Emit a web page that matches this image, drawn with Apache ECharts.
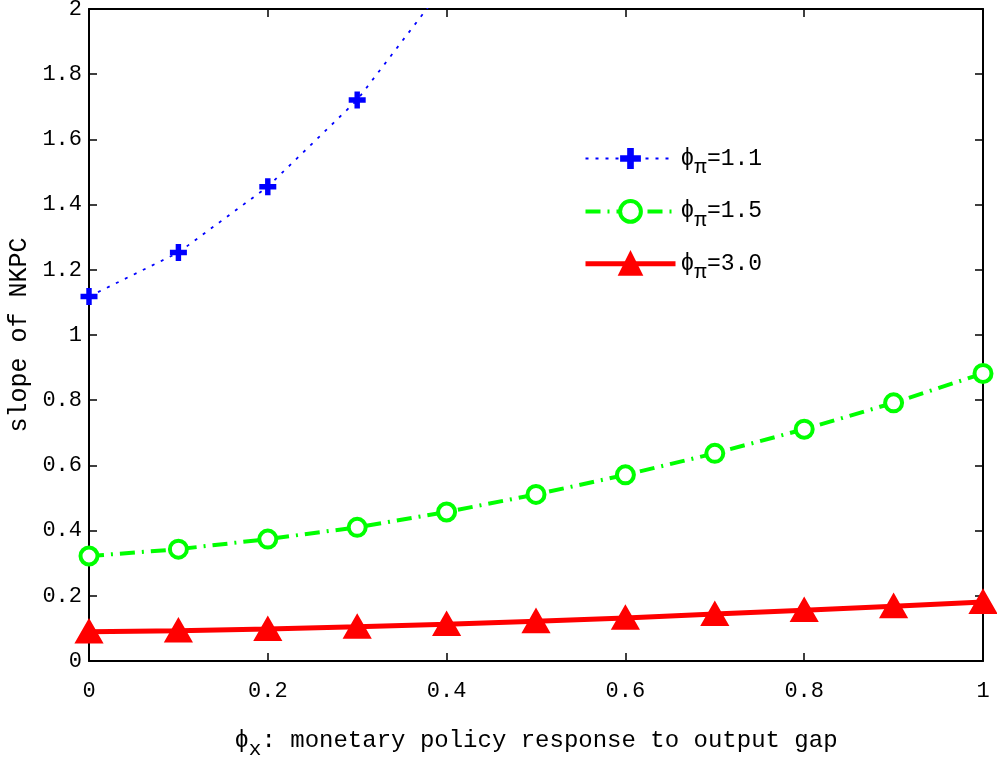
<!DOCTYPE html>
<html><head><meta charset="utf-8">
<script src="https://cdn.jsdelivr.net/npm/echarts@6/dist/echarts.min.js"></script>
<style>html,body{margin:0;padding:0;background:#fff}#c{width:997px;height:761px}</style>
</head><body><div id="c"></div>
<script>
const xValues = [0, 0.1, 0.2, 0.3, 0.4, 0.5, 0.6, 0.7, 0.8, 0.9, 1.0];
const phi11 = [1.118, 1.253, 1.455, 1.721, 2.08];
const phi15 = [0.322, 0.343, 0.374, 0.410, 0.457, 0.511, 0.571, 0.637, 0.711, 0.792, 0.882];
const phi30 = [0.090, 0.093, 0.098, 0.105, 0.113, 0.122, 0.132, 0.144, 0.156, 0.168, 0.181];
const seriesNames = ['ϕπ=1.1', 'ϕπ=1.5', 'ϕπ=3.0'];
const xTicks = {min: 0, max: 1, interval: 0.2};
const yTicks = {min: 0, max: 2, interval: 0.2};

const FONT = '"Liberation Mono", "Courier New", monospace';
const pair = (ys) => ys.map((y, i) => [xValues[i], y]);
const plusPath = 'path://M0.34,0H0.66V0.34H1V0.66H0.66V1H0.34V0.66H0V0.34H0.34Z';

const chart = echarts.init(document.getElementById('c'), null, {renderer: 'canvas'});
const axisLine = {show: true, onZero: false, lineStyle: {color: '#000', width: 2}};
const tick = {show: true, inside: true, length: 8, lineStyle: {color: '#000', width: 1.5}};
const styles = [
  {symbol: plusPath, symbolSize: 17, line: {color: '#0000ff', width: 1.8, type: [3, 7]},
   item: {color: '#0000ff', borderWidth: 0}},
  {symbol: 'circle', symbolSize: 17, line: {color: '#00ff00', width: 4, type: [15, 7, 2, 7]},
   item: {color: '#fff', borderColor: '#00ff00', borderWidth: 4}},
  {symbol: 'triangle', symbolSize: [24, 21], line: {color: '#ff0000', width: 5, type: 'solid'},
   item: {color: '#ff0000', borderColor: '#ff0000', borderWidth: 3}}
];
const datasets = [phi11, phi15, phi30];
chart.setOption({
  animation: false,
  backgroundColor: '#fff',
  grid: {left: 89, right: 14, top: 9, bottom: 100, containLabel: false, outerBoundsMode: 'none'},
  xAxis: [{
    type: 'value', min: xTicks.min, max: xTicks.max, interval: xTicks.interval,
    axisLine, axisTick: tick, splitLine: {show: false},
    axisLabel: {color: '#000', fontFamily: FONT, fontSize: 22, margin: 19},
    name: '{a|ϕ}{b|x}{a|: monetary policy response to output gap}',
    nameLocation: 'middle', nameGap: 60,
    nameTextStyle: {rich: {
      a: {fontFamily: FONT, fontSize: 24, color: '#000'},
      b: {fontFamily: FONT, fontSize: 21, color: '#000', padding: [18, 0, 0, 0]}
    }}
  }, {
    type: 'value', position: 'top', min: xTicks.min, max: xTicks.max, interval: xTicks.interval,
    axisLine, axisTick: tick, axisLabel: {show: false}, splitLine: {show: false}
  }],
  yAxis: [{
    type: 'value', min: yTicks.min, max: yTicks.max, interval: yTicks.interval,
    axisLine, axisTick: tick, splitLine: {show: false},
    axisLabel: {color: '#000', fontFamily: FONT, fontSize: 22, margin: 7},
    name: 'slope of NKPC', nameLocation: 'middle', nameGap: 56, nameRotate: 90,
    nameTextStyle: {fontFamily: FONT, fontSize: 25, color: '#000'}
  }, {
    type: 'value', position: 'right', min: yTicks.min, max: yTicks.max, interval: yTicks.interval,
    axisLine, axisTick: tick, axisLabel: {show: false}, splitLine: {show: false}
  }],
  legend: {
    orient: 'vertical', left: 583, top: 147, padding: 0, itemGap: 21, itemWidth: 90, itemHeight: 26,
    data: seriesNames.map((n, i) => ({
      name: n, lineStyle: styles[i].line, itemStyle: styles[i].item
    })),
    formatter: (n) => '{a|ϕ}{b|π}{a|' + n.slice(2) + '}',
    textStyle: {rich: {
      a: {fontFamily: FONT, fontSize: 23, color: '#000'},
      b: {fontFamily: FONT, fontSize: 21, color: '#000', padding: [18, 0, 0, 0]}
    }}
  },
  series: datasets.map((ys, i) => ({
    name: seriesNames[i], type: 'line', data: pair(ys), clip: i === 0,
    symbol: styles[i].symbol, symbolSize: styles[i].symbolSize, showAllSymbol: true,
    lineStyle: styles[i].line, itemStyle: styles[i].item, z: 3
  }))
});
</script></body></html>
